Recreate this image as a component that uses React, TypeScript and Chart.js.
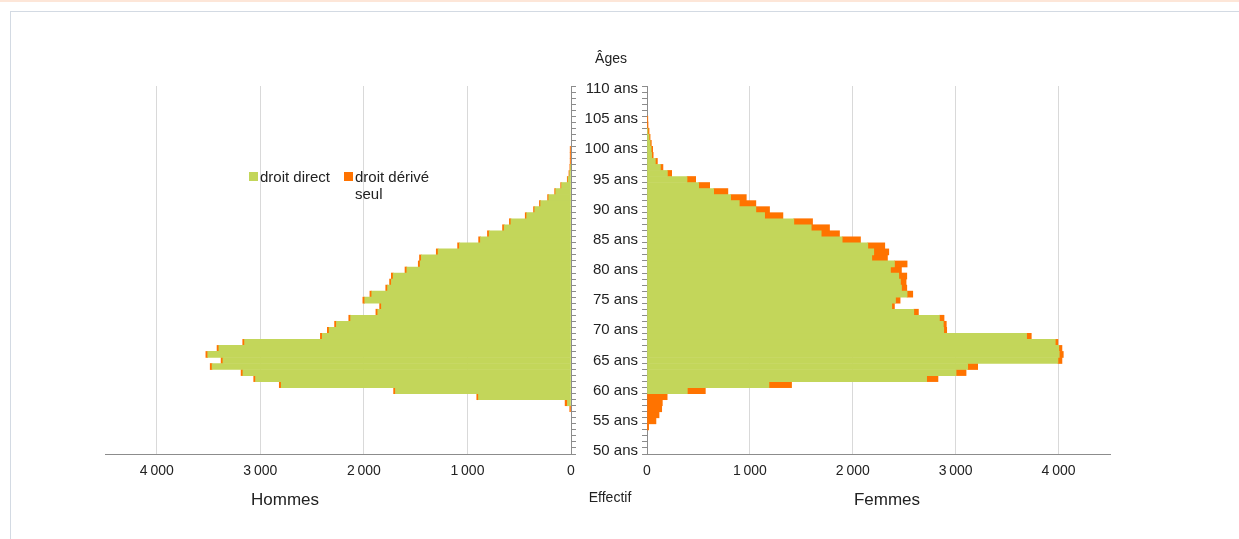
import React, { useEffect, useRef } from 'react';
import { Chart, registerables } from 'chart.js';

Chart.register(...registerables);

// Ages (categories) from 50 to 110
const AGES = [
  50, 51, 52, 53, 54, 55, 56, 57, 58, 59,
  60, 61, 62, 63, 64, 65, 66, 67, 68, 69,
  70, 71, 72, 73, 74, 75, 76, 77, 78, 79,
  80, 81, 82, 83, 84, 85, 86, 87, 88, 89,
  90, 91, 92, 93, 94, 95, 96, 97, 98, 99,
  100, 101, 102, 103, 104, 105, 106, 107, 108, 109, 110,
];

// Hommes – droit direct
const HOMMES_DIRECT = [
  0, 0, 0, 0, 0, 0, 0, 0, 35, 893,
  1695, 2798, 3046, 3168, 3466, 3361, 3508, 3400, 3152, 2402,
  2335, 2265, 2128, 1866, 1830, 1992, 1924, 1771, 1734, 1717,
  1585, 1457, 1445, 1283, 1077, 874, 790, 645, 580, 428,
  350, 293, 215, 148, 91, 28, 13, 3, 0, 0,
  0, 0, 0, 0, 0, 0, 0, 0, 0, 0, 0,
];

// Hommes – droit dérivé seul
const HOMMES_DERIVE = [
  0, 0, 0, 0, 0, 0, 0, 12, 22, 17,
  18, 19, 18, 18, 18, 18, 18, 18, 18, 18,
  18, 18, 18, 18, 18, 18, 18, 18, 18, 18,
  18, 18, 18, 18, 18, 18, 17, 16, 15, 14,
  12, 12, 11, 10, 9, 8, 7, 8, 8, 8,
  8, 0, 0, 0, 0, 0, 0, 0, 0, 0, 0,
];

// Femmes – droit direct
const FEMMES_DIRECT = [
  0, 0, 0, 0, 0, 0, 0, 0, 0, 0,
  392, 1185, 2718, 3004, 3117, 3994, 4007, 4002, 3968, 3689,
  2884, 2880, 2842, 2593, 2379, 2415, 2528, 2473, 2463, 2447,
  2366, 2405, 2185, 2204, 2146, 1897, 1693, 1596, 1427, 1143,
  1058, 897, 813, 648, 502, 389, 198, 130, 81, 45,
  40, 30, 20, 8, 0, 0, 0, 0, 0, 0, 0,
];

// Femmes – droit dérivé seul
const FEMMES_DERIVE = [
  0, 0, 0, 0, 16, 87, 117, 143, 149, 196,
  175, 220, 110, 97, 97, 39, 39, 31, 26, 46,
  29, 29, 45, 45, 26, 45, 55, 52, 55, 78,
  107, 123, 152, 146, 165, 178, 178, 178, 182, 178,
  133, 161, 152, 138, 107, 84, 42, 25, 20, 15,
  15, 12, 10, 12, 10, 8, 0, 0, 0, 0, 0,
];

const X_TICKS = [0, 1000, 2000, 3000, 4000];
const X_MAX = 4500;
const SERIES_LABELS = ['droit direct', 'droit dérivé seul'];

const GREEN = '#c3d65a';
const ORANGE = '#ff7300';
const FONT = '"Liberation Sans", Arial, sans-serif';
const TEXT = '#222222';
const AXIS = '#8c8c8c';
const GRID = '#d9d9d9';

function fmt(v: number): string {
  if (v >= 1000) {
    const th = Math.floor(v / 1000);
    const rest = String(v % 1000).padStart(3, '0');
    return th + '\u2009' + rest;
  }
  return String(v);
}

// zero values are left out so that no hairline bar is drawn for them
const nz = (arr: number[]) => arr.map((v) => (v === 0 ? null : v));

function makeConfig(side: 'left' | 'right', direct: number[], derive: number[]): any {
  const isLeft = side === 'left';
  return {
    type: 'bar',
    data: {
      labels: AGES,
      datasets: [
        { label: SERIES_LABELS[0], data: nz(direct), backgroundColor: GREEN, borderWidth: 0 },
        { label: SERIES_LABELS[1], data: nz(derive), backgroundColor: ORANGE, borderWidth: 0 },
      ],
    },
    options: {
      indexAxis: 'y',
      animation: false,
      responsive: false,
      events: [],
      layout: {
        padding: isLeft
          ? { left: 105, top: 86, right: 0, bottom: 0 }
          : { left: 0, top: 86, right: 129, bottom: 0 },
      },
      plugins: { legend: { display: false }, tooltip: { enabled: false }, title: { display: false } },
      datasets: { bar: { barPercentage: 1, categoryPercentage: 1, skipNull: true } },
      scales: {
        x: {
          type: 'linear',
          reverse: isLeft,
          min: 0,
          max: X_MAX,
          stacked: true,
          afterFit: (s: any) => { s.height = 85; },
          afterBuildTicks: (s: any) => { s.ticks = X_TICKS.map((v) => ({ value: v })); },
          grid: {
            drawTicks: false,
            lineWidth: 1,
            color: (c: any) => (c.tick && c.tick.value === 0 ? 'rgba(0,0,0,0)' : GRID),
          },
          border: { display: true, color: AXIS, width: 1 },
          ticks: {
            padding: 9,
            color: TEXT,
            font: { family: FONT, size: 14 },
            maxRotation: 0,
            autoSkip: false,
            callback: (v: any) => fmt(Number(v)),
          },
        },
        y: {
          type: 'linear',
          position: isLeft ? 'right' : 'left',
          min: 50,
          max: 110,
          stacked: true,
          afterFit: (s: any) => { s.width = isLeft ? 29 : 72; },
          afterBuildTicks: (s: any) => { s.ticks = AGES.map((v) => ({ value: v })); },
          grid: { drawOnChartArea: false, drawTicks: true, tickLength: 5, tickColor: AXIS, tickWidth: 1 },
          border: { display: true, color: AXIS, width: 1 },
          ticks: {
            autoSkip: false,
            padding: 4,
            color: TEXT,
            font: { family: FONT, size: 15 },
            callback: (v: any) => (!isLeft && Number(v) % 5 === 0 ? `${v} ans` : ''),
          },
        },
      },
    },
  };
}

export default function App() {
  const leftRef = useRef<HTMLCanvasElement | null>(null);
  const rightRef = useRef<HTMLCanvasElement | null>(null);

  useEffect(() => {
    const charts: Chart[] = [];
    if (leftRef.current) charts.push(new Chart(leftRef.current, makeConfig('left', HOMMES_DIRECT, HOMMES_DERIVE)));
    if (rightRef.current) charts.push(new Chart(rightRef.current, makeConfig('right', FEMMES_DIRECT, FEMMES_DERIVE)));
    return () => charts.forEach((c) => c.destroy());
  }, []);

  const txt = (content: string, x: number, y: number, size: number, extra: any = {}) => (
    <div
      style={{
        position: 'absolute',
        left: x,
        top: y,
        transform: 'translate(-50%, -50%)',
        fontFamily: FONT,
        fontSize: size,
        color: TEXT,
        whiteSpace: 'nowrap',
        lineHeight: 1,
        ...extra,
      }}
    >
      {content}
    </div>
  );

  return (
    <div style={{ position: 'absolute', left: 0, top: 0, width: 1239, height: 539, background: '#fff', overflow: 'hidden' }}>
      <div style={{ position: 'absolute', left: 0, top: 0, width: 1239, height: 2, background: '#fde6d8' }} />
      <div
        style={{
          position: 'absolute',
          left: 10,
          top: 11,
          width: 1260,
          height: 560,
          border: '1px solid #d3dae3',
          boxSizing: 'border-box',
        }}
      />
      <canvas
        ref={leftRef}
        width={600}
        height={539}
        style={{ position: 'absolute', left: 0, top: 0, width: 600, height: 539 }}
      />
      <canvas
        ref={rightRef}
        width={664}
        height={539}
        style={{ position: 'absolute', left: 575, top: 0, width: 664, height: 539 }}
      />
      {txt('Âges', 611, 58, 14)}
      {txt('Effectif', 610, 497, 14)}
      {txt('Hommes', 285, 499, 17)}
      {txt('Femmes', 887, 499, 17)}
      {/* Legend */}
      <div style={{ position: 'absolute', left: 249, top: 172, width: 9, height: 9, background: GREEN }} />
      <div
        style={{ position: 'absolute', left: 260, top: 168, fontFamily: FONT, fontSize: 15, color: TEXT, lineHeight: '17px', whiteSpace: 'nowrap' }}
      >
        {SERIES_LABELS[0]}
      </div>
      <div style={{ position: 'absolute', left: 344, top: 172, width: 9, height: 9, background: ORANGE }} />
      <div
        style={{ position: 'absolute', left: 355, top: 168, width: 82, fontFamily: FONT, fontSize: 15, color: TEXT, lineHeight: '17px' }}
      >
        {SERIES_LABELS[1]}
      </div>
    </div>
  );
}
